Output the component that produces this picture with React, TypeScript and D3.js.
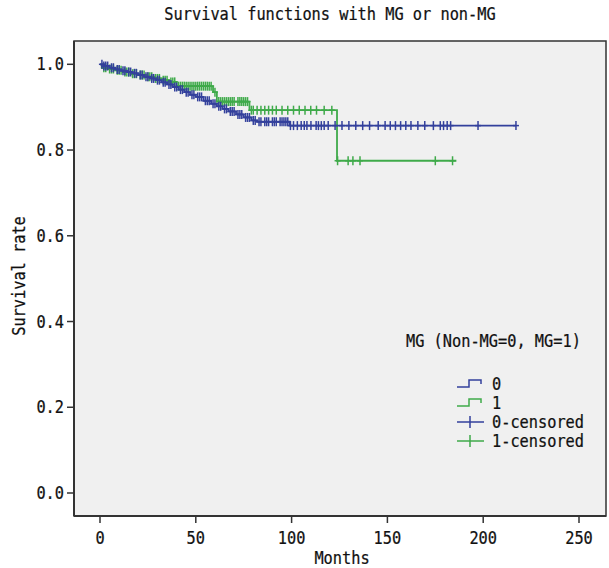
import React from "react";
import * as d3 from "d3";

const title = "Survival functions with MG or non-MG";
const xTicks = [0, 50, 100, 150, 200, 250];
const yTicks = [0.0, 0.2, 0.4, 0.6, 0.8, 1.0];
const yTickLabels = ["0.0", "0.2", "0.4", "0.6", "0.8", "1.0"];
const legendTitle = "MG (Non-MG=0, MG=1)";
const legendLabels = ["0", "1", "0-censored", "1-censored"];

// Kaplan-Meier steps: [time, survival]
const blueSteps: [number, number][] = [
  [0, 1.0], [2, 0.996], [5, 0.992], [8, 0.988], [11, 0.985], [14, 0.982], [17, 0.979],
  [20, 0.975], [23, 0.971], [26, 0.967], [29, 0.963], [32, 0.958], [35, 0.953],
  [38, 0.947], [41, 0.941], [44, 0.935], [47, 0.929], [50, 0.924], [54, 0.915],
  [58, 0.908], [61, 0.902], [64, 0.896], [67, 0.89], [71, 0.883], [75, 0.876],
  [79, 0.869], [82, 0.866], [99, 0.857],
];
const blueEnd = 217;
const greenSteps: [number, number][] = [
  [0, 1.0], [1, 0.992], [4, 0.989], [8, 0.986], [12, 0.982], [16, 0.978], [20, 0.975],
  [24, 0.971], [28, 0.967], [32, 0.963], [36, 0.959], [40, 0.949], [59, 0.935],
  [61, 0.913], [78, 0.893], [123.7, 0.775],
];
const greenEnd = 186;

const blueCensor = [
  1, 2, 3, 4, 6, 7, 9, 10, 12, 13, 15, 16, 18, 19, 21, 22, 24, 25, 27, 28, 30, 31, 33, 34,
  36, 37, 39, 40, 42, 43, 45, 46, 48, 49, 51, 52, 53, 55, 56, 57, 59, 60, 62, 63, 65, 66,
  68, 69, 70, 72, 73, 74, 76, 77, 78, 80, 81, 83, 84, 86, 87, 88, 90, 91, 92, 94, 95, 96,
  97, 98, 99.4, 101, 103, 105, 106.6, 108, 110.1, 112.8, 114, 115.5, 117, 119.1, 122.7,
  126.3, 129.9, 133.5, 137.1, 140.7, 145.2, 148.8, 151.5, 154.2, 156.9, 159.6, 162.3,
  165.9, 169.5, 174, 177.6, 179.3, 181.2, 183, 197.3, 217.1,
];
const greenCensor = [
  2, 3, 5, 6, 7, 9, 10, 11, 13, 14, 15, 17, 18, 19, 21, 22, 23, 25, 26, 27, 29, 30, 31,
  33, 34, 35, 37, 38, 39, 41, 42, 43, 44, 45, 46, 47, 48, 49, 50, 51, 52, 53, 54, 55, 56,
  57, 58, 60, 62, 63, 64, 65, 66, 67, 68, 69, 70, 72, 73, 74, 75, 76, 77, 79, 80, 82, 84,
  86, 88, 90, 92, 95, 98, 101, 104, 107, 110, 113, 117, 121, 124, 129.5, 132, 135.7, 175,
  184,
];

const BLUE = "#33409c";
const GREEN = "#3faa4a";
const FONT = "'DejaVu Sans Mono', monospace";
const FS = 17;
const SX = 0.9;

function survAt(steps: [number, number][], t: number) {
  let s = steps[0][1];
  for (const [tt, v] of steps) if (tt <= t) s = v;
  return s;
}

function stepPath(steps: [number, number][], end: number, x: any, y: any) {
  const pts: [number, number][] = steps.map(([t, s]) => [t, s]);
  pts.push([end, steps[steps.length - 1][1]]);
  const line = d3
    .line<[number, number]>()
    .x((d) => x(d[0]))
    .y((d) => y(d[1]))
    .curve(d3.curveStepAfter);
  return line(pts) || "";
}

function T({ x, y, anchor = "start", rotate = 0, children }: any) {
  return (
    <text
      transform={`translate(${x},${y}) rotate(${rotate}) scale(${SX},1)`}
      textAnchor={anchor}
      fontFamily={FONT}
      fontSize={FS}
      fill="#111"
      stroke="#111"
      strokeWidth={0.25}
    >
      {children}
    </text>
  );
}

export default function App() {
  const W = 609;
  const H = 568;
  const left = 74, right = 606, top = 41, bottom = 516;
  const x = d3.scaleLinear().domain([0, 250]).range([100, 579]);
  const y = d3.scaleLinear().domain([0, 1]).range([493, 64.3]);

  const censorMarks = (times: number[], steps: [number, number][], color: string, key: string) =>
    times.map((t, i) => {
      const cx = x(t);
      const cy = y(survAt(steps, t));
      return (
        <g key={key + i} stroke={color} strokeWidth={1.5}>
          <line x1={cx - 3} x2={cx + 3} y1={cy} y2={cy} />
          <line x1={cx} x2={cx} y1={cy - 4.5} y2={cy + 4.5} />
        </g>
      );
    });

  const legendY = [384, 403, 422, 441];

  return (
    <svg width={W} height={H} style={{ position: "absolute", left: 0, top: 0 }}>
      <rect x={0} y={0} width={W} height={H} fill="#ffffff" />
      <T x={330} y={20} anchor="middle">{title}</T>
      <rect x={left} y={top} width={right - left} height={bottom - top} fill="#f0f0f0" stroke="#333" strokeWidth={1.5} />
      {/* curves */}
      <path d={stepPath(greenSteps, greenEnd, x, y)} fill="none" stroke={GREEN} strokeWidth={1.8} />
      {censorMarks(greenCensor, greenSteps, GREEN, "g")}
      <path d={stepPath(blueSteps, blueEnd, x, y)} fill="none" stroke={BLUE} strokeWidth={1.8} />
      {censorMarks(blueCensor, blueSteps, BLUE, "b")}
      {/* axes */}
      <line x1={left} x2={left} y1={top} y2={bottom} stroke="#333" strokeWidth={2} />
      <line x1={left} x2={right} y1={bottom} y2={bottom} stroke="#333" strokeWidth={2} />
      {yTicks.map((t, i) => (
        <g key={"yt" + i}>
          <line x1={left - 7} x2={left} y1={y(t)} y2={y(t)} stroke="#333" strokeWidth={1.5} />
          <T x={64} y={y(t) + 6} anchor="end">{yTickLabels[i]}</T>
        </g>
      ))}
      {xTicks.map((t, i) => (
        <g key={"xt" + i}>
          <line x1={x(t)} x2={x(t)} y1={bottom} y2={bottom + 7} stroke="#333" strokeWidth={1.5} />
          <T x={x(t)} y={544} anchor="middle">{t}</T>
        </g>
      ))}
      <T x={342} y={564} anchor="middle">Months</T>
      <T x={25} y={276} anchor="middle" rotate={-90}>Survival rate</T>
      {/* legend */}
      <T x={406} y={347}>{legendTitle}</T>
      <path d={`M457,${legendY[0] + 3} H469 V${legendY[0] - 4} H481 V${legendY[0]}`} fill="none" stroke={BLUE} strokeWidth={1.5} />
      <path d={`M457,${legendY[1] + 3} H469 V${legendY[1] - 4} H481 V${legendY[1]}`} fill="none" stroke={GREEN} strokeWidth={1.5} />
      <g stroke={BLUE} strokeWidth={1.5}>
        <line x1={457} x2={484} y1={legendY[2]} y2={legendY[2]} />
        <line x1={470} x2={470} y1={legendY[2] - 6} y2={legendY[2] + 6} />
      </g>
      <g stroke={GREEN} strokeWidth={1.5}>
        <line x1={457} x2={484} y1={legendY[3]} y2={legendY[3]} />
        <line x1={470} x2={470} y1={legendY[3] - 6} y2={legendY[3] + 6} />
      </g>
      {legendLabels.map((l, i) => (
        <T key={"ll" + i} x={492} y={legendY[i] + 6}>{l}</T>
      ))}
    </svg>
  );
}
